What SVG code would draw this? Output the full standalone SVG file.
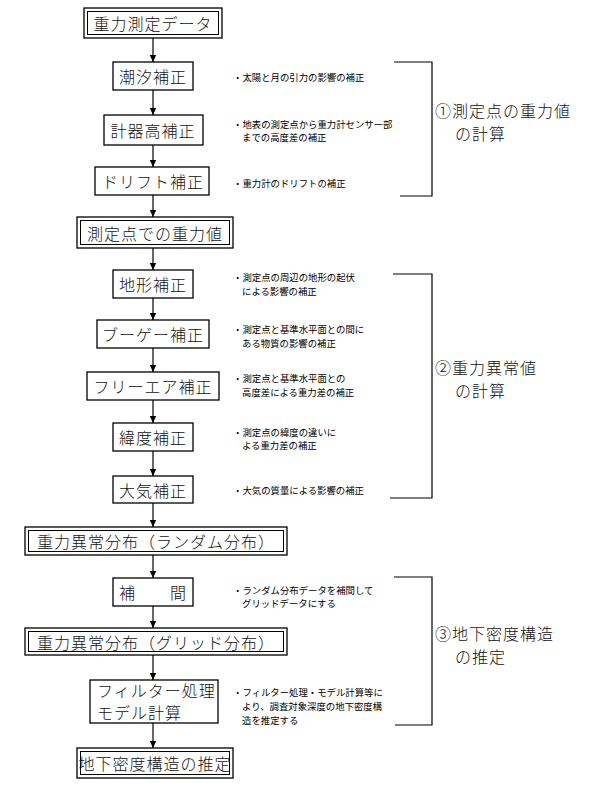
<svg xmlns="http://www.w3.org/2000/svg" width="589" height="794" viewBox="0 0 589 794">
<style>
.bx{fill:#fff;stroke:#000;stroke-width:1.3}
.in{fill:none;stroke:#000;stroke-width:1}
.t{font-family:"Noto Sans CJK JP","Noto Sans CJK SC",sans-serif;font-size:16px;font-weight:300;fill:#111;letter-spacing:1px}
.c{text-anchor:middle;dominant-baseline:central}
.n{font-family:"Noto Sans CJK JP","Noto Sans CJK SC",sans-serif;font-size:9.4px;fill:#000;dominant-baseline:central}
.ln{fill:none;stroke:#000;stroke-width:1.2}
</style>
<defs>
<marker id="ah" markerWidth="8" markerHeight="8" refX="7" refY="4" orient="auto" markerUnits="userSpaceOnUse">
<path d="M0,0.8 L7,4 L0,7.2 Z" fill="#000"/>
</marker>
</defs>
<rect width="589" height="794" fill="#fff"/>
<g id="connectors">
<line class="ln" x1="153" y1="38" x2="153" y2="62" marker-end="url(#ah)"/>
<line class="ln" x1="153" y1="90" x2="153" y2="115" marker-end="url(#ah)"/>
<line class="ln" x1="153" y1="145" x2="153" y2="167" marker-end="url(#ah)"/>
<line class="ln" x1="153" y1="195" x2="153" y2="217" marker-end="url(#ah)"/>
<line class="ln" x1="153" y1="248" x2="153" y2="270" marker-end="url(#ah)"/>
<line class="ln" x1="153" y1="298" x2="153" y2="320" marker-end="url(#ah)"/>
<line class="ln" x1="153" y1="348" x2="153" y2="372" marker-end="url(#ah)"/>
<line class="ln" x1="153" y1="400" x2="153" y2="423" marker-end="url(#ah)"/>
<line class="ln" x1="153" y1="451" x2="153" y2="476" marker-end="url(#ah)"/>
<line class="ln" x1="153" y1="503" x2="153" y2="527" marker-end="url(#ah)"/>
<line class="ln" x1="153" y1="555" x2="153" y2="578" marker-end="url(#ah)"/>
<line class="ln" x1="153" y1="606" x2="153" y2="628" marker-end="url(#ah)"/>
<line class="ln" x1="153" y1="655" x2="153" y2="680" marker-end="url(#ah)"/>
<line class="ln" x1="153" y1="723" x2="153" y2="748" marker-end="url(#ah)"/>
</g>
<g id="n1"><rect class="bx" x="84" y="8" width="138" height="30"/><rect class="in" x="87.5" y="11.5" width="131" height="23"/><text class="t c" x="153" y="23">重力測定データ</text></g>
<g id="n2"><rect class="bx" x="113" y="62" width="80" height="28"/><text class="t c" x="153" y="76">潮汐補正</text></g>
<g id="n3"><rect class="bx" x="104" y="115" width="99" height="30"/><text class="t c" x="153" y="130">計器高補正</text></g>
<g id="n4"><rect class="bx" x="95" y="167" width="114" height="28"/><text class="t c" x="153" y="181">ドリフト補正</text></g>
<g id="n5"><rect class="bx" x="77" y="217" width="156" height="31"/><rect class="in" x="80.5" y="220.5" width="149" height="24"/><text class="t c" x="155" y="232.5">測定点での重力値</text></g>
<g id="n6"><rect class="bx" x="113" y="270" width="80" height="28"/><text class="t c" x="153" y="284">地形補正</text></g>
<g id="n7"><rect class="bx" x="97" y="320" width="112" height="28"/><text class="t c" x="153" y="334">ブーゲー補正</text></g>
<g id="n8"><rect class="bx" x="87" y="372" width="132" height="28"/><text class="t c" x="153" y="386">フリーエア補正</text></g>
<g id="n9"><rect class="bx" x="113" y="423" width="80" height="28"/><text class="t c" x="153" y="437">緯度補正</text></g>
<g id="n10"><rect class="bx" x="113" y="476" width="80" height="27"/><text class="t c" x="153" y="489.5">大気補正</text></g>
<g id="n11"><rect class="bx" x="25" y="527" width="262" height="28"/><rect class="in" x="28.5" y="530.5" width="255" height="21"/><text class="t c" x="156" y="541">重力異常分布（ランダム分布）</text></g>
<g id="n12"><rect class="bx" x="113" y="578" width="80" height="28"/><text class="t c" x="153" y="592">補　　間</text></g>
<g id="n13"><rect class="bx" x="25" y="628" width="262" height="27"/><rect class="in" x="28.5" y="631.5" width="255" height="20"/><text class="t c" x="156" y="641.5">重力異常分布（グリッド分布）</text></g>
<g id="n14"><rect class="bx" x="90" y="680" width="128" height="43"/><text class="t" x="97" y="697">フィルター処理</text><text class="t" x="97" y="719">モデル計算</text></g>
<g id="n15"><rect class="bx" x="77" y="748" width="156" height="30"/><rect class="in" x="80.5" y="751.5" width="149" height="23"/><text class="t c" x="155" y="763">地下密度構造の推定</text></g>
<g id="notes">
<text class="n" x="233" y="77">・太陽と月の引力の影響の補正</text>
<text class="n" x="233" y="124">・地表の測定点から重力計センサー部</text>
<text class="n" x="242" y="137">までの高度差の補正</text>
<text class="n" x="233" y="183">・重力計のドリフトの補正</text>
<text class="n" x="233" y="277">・測定点の周辺の地形の起伏</text>
<text class="n" x="242" y="291">による影響の補正</text>
<text class="n" x="233" y="329">・測定点と基準水平面との間に</text>
<text class="n" x="242" y="343">ある物質の影響の補正</text>
<text class="n" x="233" y="378">・測定点と基準水平面との</text>
<text class="n" x="242" y="392">高度差による重力差の補正</text>
<text class="n" x="233" y="432">・測定点の緯度の違いに</text>
<text class="n" x="242" y="445">よる重力差の補正</text>
<text class="n" x="233" y="490">・大気の質量による影響の補正</text>
<text class="n" x="233" y="590">・ランダム分布データを補間して</text>
<text class="n" x="242" y="603">グリッドデータにする</text>
<text class="n" x="233" y="692">・フィルター処理・モデル計算等に</text>
<text class="n" x="242" y="706">より、調査対象深度の地下密度構</text>
<text class="n" x="242" y="720">造を推定する</text>
</g>
<g id="brackets">
<polyline class="ln" points="394,62 432,62 432,196 400,196"/>
<polyline class="ln" points="393,274 432,274 432,498 390,498"/>
<polyline class="ln" points="394,577 432,577 432,725 395,725"/>
</g>
<g id="labels">
<text class="t" x="435" y="117">①測定点の重力値</text>
<text class="t" x="455" y="140">の計算</text>
<text class="t" x="435" y="374">②重力異常値</text>
<text class="t" x="455" y="397">の計算</text>
<text class="t" x="435" y="640">③地下密度構造</text>
<text class="t" x="455" y="663">の推定</text>
</g>
</svg>
